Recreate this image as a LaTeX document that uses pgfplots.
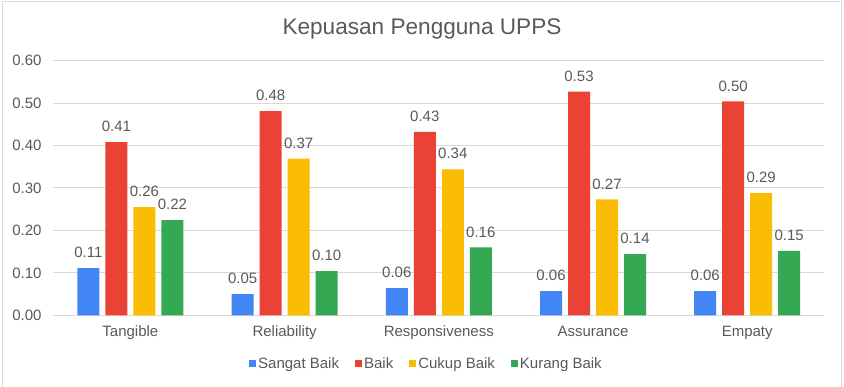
\documentclass[border=0pt]{standalone}
\usepackage{pgfplots}
\pgfplotsset{compat=1.18}
\usepackage{pgfplotstable}
\usepackage{fontspec}
\setmainfont{Liberation Sans}
\definecolor{cblue}{HTML}{4285F4}
\definecolor{cred}{HTML}{EA4335}
\definecolor{cyellow}{HTML}{FBBC04}
\definecolor{cgreen}{HTML}{34A853}
\definecolor{txtgray}{HTML}{595959}
\definecolor{gridgray}{HTML}{D9D9D9}
\definecolor{framegray}{HTML}{DADADA}
\newcommand{\gap}{\rule{14pt}{0pt}}
\pgfplotstableread{
x sb b cb kb
0 0.111 0.408 0.255 0.224
1 0.050 0.481 0.369 0.104
2 0.064 0.432 0.344 0.160
3 0.057 0.527 0.273 0.144
4 0.057 0.504 0.288 0.152
}\data
\begin{document}
\begin{tikzpicture}[x=1pt,y=1pt]
\useasboundingbox (0,0) rectangle (844,387);
\draw[framegray, line width=1pt] (2,0) -- (2,385.5) -- (841.5,385.5) -- (841.5,0);
\node[anchor=base, text=txtgray, font=\fontsize{22.6}{27}\selectfont] at (422,352) {Kepuasan Pengguna UPPS};
\begin{axis}[
  at={(53.3pt,71.7pt)}, anchor=south west,
  scale only axis, width=771pt, height=254.6pt,
  /pgf/number format/assume math mode=true,
  ybar=6pt, bar width=22pt,
  xmin=-0.5, xmax=4.5, ymin=0, ymax=0.6,
  enlargelimits=false,
  xtick={0,1,2,3,4},
  xticklabels={Tangible,Reliability,Responsiveness,Assurance,Empaty},
  ytick={0,0.1,0.2,0.3,0.4,0.5,0.6},
  yticklabel={\pgfmathprintnumber[fixed,fixed zerofill,precision=2]{\tick}},
  axis line style={draw=none},
  major tick length=0pt,
  ymajorgrids, grid style={draw=gridgray, line width=1pt},
  tick label style={font=\fontsize{15}{18}\selectfont, text=txtgray},
  xticklabel style={anchor=base, yshift=-21pt},
  yticklabel style={anchor=east, inner sep=0pt, xshift=-11.6pt},
  nodes near coords={\pgfmathprintnumber[fixed,fixed zerofill,precision=2]{\pgfplotspointmeta}},
  every node near coord/.append style={font=\fontsize{15}{18}\selectfont, text=txtgray, inner sep=0pt, anchor=south, yshift=10pt},
  legend columns=4,
  legend style={draw=none, fill=none, at={(0.484,-0.191)}, anchor=center,
    font=\fontsize{15}{18}\selectfont, text=txtgray,
    /tikz/every odd column/.append style={column sep=0pt},
    /tikz/every even column/.append style={column sep=0pt},
    nodes={inner sep=2pt}},
  legend image code/.code={\fill[#1] (0pt,-3.5pt) rectangle (7pt,3.5pt);},
]
\addplot[fill=cblue, draw=none] table[x=x,y=sb]{\data};
\addplot[fill=cred, draw=none] table[x=x,y=b]{\data};
\addplot[fill=cyellow, draw=none] table[x=x,y=cb]{\data};
\addplot[fill=cgreen, draw=none] table[x=x,y=kb]{\data};
\legend{Sangat Baik\gap,Baik\gap,Cukup Baik\gap,Kurang Baik}
\end{axis}
\end{tikzpicture}
\end{document}
